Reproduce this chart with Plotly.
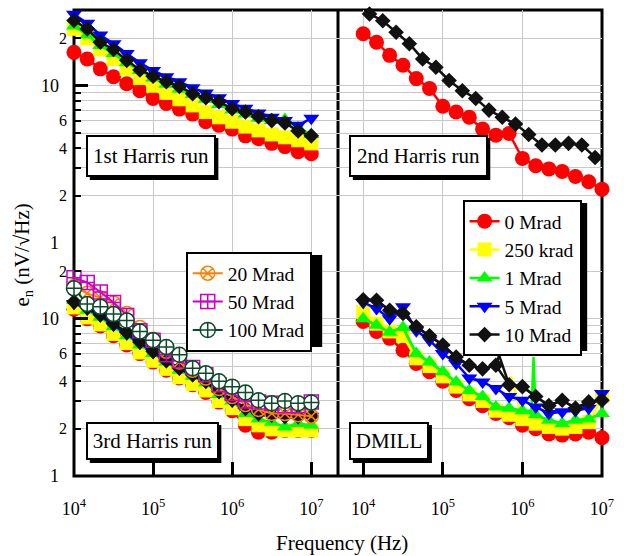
import math
import plotly.graph_objects as go
from plotly.subplots import make_subplots

# ---------------- data ----------------
FREQ = [1.00e4, 1.47e4, 2.15e4, 3.16e4, 4.64e4, 6.81e4, 1.00e5, 1.47e5, 2.15e5, 3.16e5,
        4.64e5, 6.81e5, 1.00e6, 1.47e6, 2.15e6, 3.16e6, 4.64e6, 6.81e6, 1.00e7]
FREQ_2ND_10M = [1.20e4, 1.76e4, 2.59e4, 3.80e4, 5.58e4, 8.19e4, 1.20e5, 1.76e5, 2.59e5,
                3.80e5, 5.58e5, 8.19e5, 1.20e6, 1.76e6, 2.59e6, 3.80e6, 5.58e6, 8.19e6]

# 1st Harris run
H1_0M = [16.3, 14.8, 12.8, 11.4, 10.3, 9.3, 8.3, 7.7, 7.1, 6.6, 5.9, 5.6, 5.3, 4.8, 4.6, 4.3, 4.1, 3.8, 3.7]
H1_250K = [23.0, 20.0, 17.0, 14.8, 12.8, 11.2, 10.0, 9.0, 8.2, 7.5, 6.8, 6.3, 5.9, 5.5, 5.2, 4.9, 4.7, 4.5, 4.3]
H1_1M = [24.0, 21.0, 18.0, 16.0, 14.0, 12.5, 11.2, 10.2, 9.5, 8.8, 8.2, 7.6, 7.0, 6.6, 6.2, 6.0, 6.1, 5.4, 4.9]
H1_5M = [28.5, 25.0, 21.0, 18.5, 16.0, 14.0, 12.5, 11.4, 10.6, 9.7, 9.0, 8.4, 7.7, 7.2, 6.7, 6.3, 6.0, 5.6, 6.2]
H1_10M = [26.0, 23.0, 18.9, 17.0, 14.5, 12.6, 11.5, 10.6, 9.9, 8.9, 8.4, 7.9, 7.15, 6.8, 6.35, 6.0, 5.8, 5.15, 4.8]

# 2nd Harris run
H2_0M = [21.4, 18.9, 15.6, 13.5, 11.1, 9.6, 7.4, 6.8, 6.3, 5.3, 4.85, 4.97, 3.45, 3.1, 2.96, 2.85, 2.65, 2.45, 2.2]
H2_10M = [28.6, 25.9, 21.9, 18.5, 14.8, 13.1, 10.8, 9.3, 8.3, 7.0, 6.3, 5.7, 4.9, 4.2, 4.2, 4.3, 4.2, 3.5]

# 3rd Harris run
H3_0M = [11.5, 10.0, 9.0, 7.8, 6.8, 6.0, 5.3, 4.7, 4.2, 3.8, 3.4, 2.95, 2.6, 2.1, 1.9, 1.9, 1.95, 1.95, 1.95]
H3_250K = [11.8, 10.2, 9.2, 8.0, 7.0, 6.1, 5.4, 4.8, 4.25, 3.85, 3.5, 3.0, 2.7, 2.3, 2.1, 1.98, 1.95, 1.95, 1.95]
H3_1M = [13.1, 11.3, 10.2, 8.9, 7.8, 6.8, 6.0, 5.3, 4.7, 4.3, 3.9, 3.3, 3.0, 2.5, 2.3, 2.2, 2.05, 2.16, 2.1]
H3_5M = [12.5, 11.5, 10.4, 9.1, 8.0, 7.0, 6.1, 5.35, 4.8, 4.35, 3.95, 3.4, 3.0, 2.65, 2.45, 2.4, 2.35, 2.35, 2.4]
H3_10M = [12.8, 11.8, 10.6, 9.3, 8.2, 7.1, 6.2, 5.4, 4.85, 4.4, 4.0, 3.45, 3.05, 2.7, 2.5, 2.45, 2.4, 2.4, 2.4]
H3_20M = [16.0, 14.5, 13.6, 12.6, 10.8, 8.8, 7.4, 6.2, 5.3, 4.7, 4.2, 3.6, 3.2, 2.85, 2.65, 2.5, 2.5, 2.45, 2.4]
H3_50M = [18.2, 17.0, 14.8, 12.7, 10.5, 8.4, 7.3, 5.9, 5.4, 4.9, 4.4, 3.8, 3.35, 3.0, 2.96, 2.9, 2.8, 2.8, 2.96]
H3_100M = [15.6, 12.4, 11.9, 10.7, 9.75, 8.3, 7.3, 6.6, 5.9, 4.85, 4.5, 4.0, 3.7, 3.4, 3.03, 2.9, 3.0, 2.9, 2.93]

# DMILL
DM_0M = [9.6, 8.3, 7.5, 6.3, 5.2, 4.6, 4.0, 3.5, 3.1, 2.8, 2.5, 2.35, 2.1, 2.0, 1.85, 1.82, 1.85, 1.9, 1.75]
DM_250K = [11.0, 9.3, 8.3, 7.8, 5.6, 5.0, 4.3, 3.7, 3.3, 3.0, 2.6, 2.45, 2.3, 2.15, 2.05, 2.0, 2.05, 2.2, 3.2]
DM_1M = [10.0, 9.1, 8.2, 8.8, 6.0, 5.3, 4.6, 3.96, 3.5, 3.2, 2.75, 2.7, 2.6, 2.45, 2.26, 2.16, 2.26, 2.3, 2.5]
DM_5M = [12.7, 11.6, 10.0, 11.9, 8.4, 7.3, 6.0, 5.2, 4.2, 3.96, 3.6, 3.2, 3.03, 2.75, 2.5, 2.56, 2.6, 2.7, 3.35]
DM_10M = [13.2, 13.1, 11.3, 10.8, 8.9, 7.8, 6.8, 5.7, 5.06, 4.8, 5.06, 3.8, 3.7, 3.2, 2.8, 3.03, 2.7, 2.96, 3.03]
# extra (unmarked) samples of the DMILL curves: spikes
DM_250K_SPIKE_F = [7.2e5]
DM_250K_SPIKE_V = [4.3]
DM_1M_SPIKE_F = [1.30e6, 1.38e6]
DM_1M_SPIKE_V = [2.6, 5.7]
DM_10M_SPIKE_F = [5.1e5]
DM_10M_SPIKE_V = [5.85]

X_TICKS = [1e4, 1e5, 1e6, 1e7]
X_TICK_TEXT = ["10<sup>4</sup>", "10<sup>5</sup>", "10<sup>6</sup>", "10<sup>7</sup>"]
Y_TICKS = [1, 2, 4, 6, 10, 20]
Y_TICK_TEXT = ["1", "2", "4", "6", "10", "2"]
Y_MAJOR = [1, 10]
Y_MINOR = [2, 3, 4, 5, 6, 7, 8, 9, 20, 30]

NAMES = ["0 Mrad", "250 krad", "1 Mrad", "5 Mrad", "10 Mrad"]
NAMES2 = ["20 Mrad", "50 Mrad", "100 Mrad"]

# ---------------- styles ----------------
SERIF = "Liberation Serif"
GRID = "#c8c8c8"
STY = {
    "0 Mrad": dict(color="#ff0000", symbol="circle", size=15),
    "250 krad": dict(color="#ffff00", symbol="square", size=14),
    "1 Mrad": dict(color="#00ff00", symbol="triangle-up", size=14),
    "5 Mrad": dict(color="#0000ff", symbol="triangle-down", size=14),
    "10 Mrad": dict(color="#111111", symbol="diamond", size=12),
}
STY2 = {
    "20 Mrad": dict(color="#ff8000", symbol="circle-x-open", size=14, fill=None),
    "50 Mrad": dict(color="#cc00cc", symbol="square-cross-open", size=14, fill=None),
    "100 Mrad": dict(color="#0b4a2a", symbol="circle-cross", size=15, fill="white"),
}

W, H = 624, 556
L, R, T, B = 74, 16, 10, 80
PW, PH = W - L - R, H - T - B


def px_x(p):
    return (p - L) / PW


def px_y(p):
    return (H - B - p) / PH


fig = make_subplots(rows=2, cols=2, horizontal_spacing=0, vertical_spacing=0)


def add_main(row, col, x, y, name, showlegend=False, mode="lines+markers"):
    s = STY[name]
    fig.add_trace(go.Scatter(
        x=x, y=y, name=name, mode=mode, legend="legend", showlegend=showlegend,
        line=dict(color=s["color"], width=2.5),
        marker=dict(color=s["color"], symbol=s["symbol"], size=s["size"], line=dict(width=0)),
        cliponaxis=False), row=row, col=col)


def add_line(row, col, x, y, name):
    s = STY[name]
    fig.add_trace(go.Scatter(x=x, y=y, mode="lines", showlegend=False,
                             line=dict(color=s["color"], width=2.5)), row=row, col=col)


def merged(xa, ya, xb, yb):
    pts = sorted(list(zip(xa, ya)) + list(zip(xb, yb)))
    return [p[0] for p in pts], [p[1] for p in pts]


# 1st Harris run (top-left) - provides legend 1
for nm, ys in zip(NAMES, [H1_0M, H1_250K, H1_1M, H1_5M, H1_10M]):
    add_main(1, 1, FREQ, ys, nm, showlegend=True)

# 2nd Harris run (top-right)
add_main(1, 2, FREQ, H2_0M, "0 Mrad")
add_main(1, 2, FREQ_2ND_10M, H2_10M, "10 Mrad")

# 3rd Harris run (bottom-left)
for nm, ys in zip(NAMES, [H3_0M, H3_250K, H3_1M, H3_5M, H3_10M]):
    add_main(2, 1, FREQ, ys, nm)
for nm, ys in zip(NAMES2, [H3_20M, H3_50M, H3_100M]):
    s = STY2[nm]
    mk = dict(symbol=s["symbol"], size=s["size"], line=dict(color=s["color"], width=1.5))
    mk["color"] = s["fill"] if s["fill"] else s["color"]
    fig.add_trace(go.Scatter(x=FREQ, y=ys, name=nm, mode="lines+markers", legend="legend2",
                             line=dict(color=s["color"], width=2), marker=mk, cliponaxis=False),
                  row=2, col=1)

# DMILL (bottom-right)
spikes = {"250 krad": (DM_250K_SPIKE_F, DM_250K_SPIKE_V),
          "1 Mrad": (DM_1M_SPIKE_F, DM_1M_SPIKE_V),
          "10 Mrad": (DM_10M_SPIKE_F, DM_10M_SPIKE_V)}
for nm, ys in zip(NAMES, [DM_0M, DM_250K, DM_1M, DM_5M, DM_10M]):
    if nm in spikes:
        xs, yv = merged(FREQ, ys, *spikes[nm])
        add_line(2, 2, xs, yv, nm)
    add_main(2, 2, FREQ, ys, nm)

# ---------------- axes ----------------
XR = {1: [4.0, 4.0 + 267 / 80.0], 2: [7.0 - 267 / 80.5, 7.0]}
for r in (1, 2):
    for c in (1, 2):
        fig.update_xaxes(type="log", range=XR[c], showgrid=True, gridcolor=GRID, gridwidth=1,
                         tickvals=X_TICKS, ticktext=X_TICK_TEXT, showticklabels=(r == 2),
                         ticks="inside" if r == 2 else "", ticklen=14, tickwidth=2.5,
                         tickcolor="black", showline=False, zeroline=False,
                         ticklabelstandoff=20,
                         tickfont=dict(family=SERIF, size=18, color="black"),
                         row=r, col=c)
        fig.update_yaxes(type="log", range=[0, math.log10(30.3)], tickvals=Y_MAJOR,
                         ticks="inside" if c == 1 else "", ticklen=14, tickwidth=2.5,
                         tickcolor="black", showticklabels=False, showgrid=True,
                         gridcolor=GRID, gridwidth=1, showline=False, zeroline=False,
                         minor=dict(tickvals=Y_MINOR, ticks="inside" if c == 1 else "",
                                    ticklen=7, tickwidth=2, tickcolor="black",
                                    showgrid=True, gridcolor=GRID, gridwidth=1),
                         row=r, col=c)

# ---------------- decorations ----------------
shapes = [
    dict(type="rect", xref="paper", yref="paper", x0=0, x1=1, y0=0, y1=1,
         line=dict(color="black", width=3), layer="between"),
    dict(type="line", xref="paper", yref="paper", x0=0.5, x1=0.5, y0=0, y1=1,
         line=dict(color="black", width=3), layer="between"),
    # legend shadows
    dict(type="rect", xref="paper", yref="paper", x0=px_x(470), x1=px_x(593),
         y0=px_y(351), y1=px_y(203), fillcolor="black", line=dict(width=0), layer="above"),
    dict(type="rect", xref="paper", yref="paper", x0=px_x(190), x1=px_x(325),
         y0=px_y(347), y1=px_y(255), fillcolor="black", line=dict(width=0), layer="above"),
]

annotations = []
# panel labels: text, box left, top, right, bottom (pixels)
PANEL_LABELS = [("1st Harris run", 87, 135, 217, 177), ("2nd Harris run", 353, 135, 492, 177),
                ("3rd Harris run", 87, 422, 220, 460), ("DMILL", 353, 422, 433, 460)]
PAD, BW, SH = 3, 2, 3
for txt, x0, y0, x1, y1 in PANEL_LABELS:
    shapes.append(dict(type="rect", xref="paper", yref="paper",
                       x0=px_x(x0 + SH), x1=px_x(x1 + SH), y0=px_y(y1 + SH), y1=px_y(y0 + SH),
                       fillcolor="black", line=dict(width=0), layer="above"))
    annotations.append(dict(
        text=txt, xref="paper", yref="paper", x=px_x((x0 + x1) / 2), y=px_y((y0 + y1) / 2),
        xanchor="center", yanchor="middle", showarrow=False,
        width=(x1 - x0) - 2 * (PAD + BW), height=(y1 - y0) - 2 * (PAD + BW),
        font=dict(family=SERIF, size=21, color="black"),
        bgcolor="white", bordercolor="black", borderwidth=BW, borderpad=PAD))

for yref in ("y", "y3"):
    for v, t in zip(Y_TICKS, Y_TICK_TEXT):
        major = v in Y_MAJOR
        annotations.append(dict(
            text=t, xref="paper", yref=yref, x=px_x(61 if major else 69), y=math.log10(v),
            xanchor="right", yanchor="middle", showarrow=False,
            font=dict(family=SERIF, size=18 if major else 16, color="black")))

annotations.append(dict(text="Frequency (Hz)", xref="paper", yref="paper",
                        x=px_x(345), y=px_y(543), xanchor="center", yanchor="middle",
                        showarrow=False, font=dict(family=SERIF, size=21, color="black")))
annotations.append(dict(text="e<sub>n</sub> (nV/\u221aHz)", xref="paper", yref="paper",
                        x=px_x(22), y=px_y(255), xanchor="center", yanchor="middle",
                        textangle=-90, showarrow=False,
                        font=dict(family=SERIF, size=21, color="black")))

fig.update_layout(
    width=W, height=H, margin=dict(l=L, r=R, t=T, b=B),
    paper_bgcolor="white", plot_bgcolor="white",
    font=dict(family=SERIF, color="black"),
    shapes=shapes, annotations=annotations,
    legend=dict(x=px_x(467), y=px_y(200), xanchor="left", yanchor="top",
                bgcolor="white", bordercolor="black", borderwidth=2,
                font=dict(family=SERIF, size=19.5, color="black"), tracegroupgap=0),
    legend2=dict(x=px_x(187), y=px_y(252), xanchor="left", yanchor="top",
                 bgcolor="white", bordercolor="black", borderwidth=2,
                 font=dict(family=SERIF, size=19.5, color="black"), tracegroupgap=0),
)

fig.write_html("out.html", config={"displayModeBar": False},
               post_script="document.body.style.margin='0px';")
